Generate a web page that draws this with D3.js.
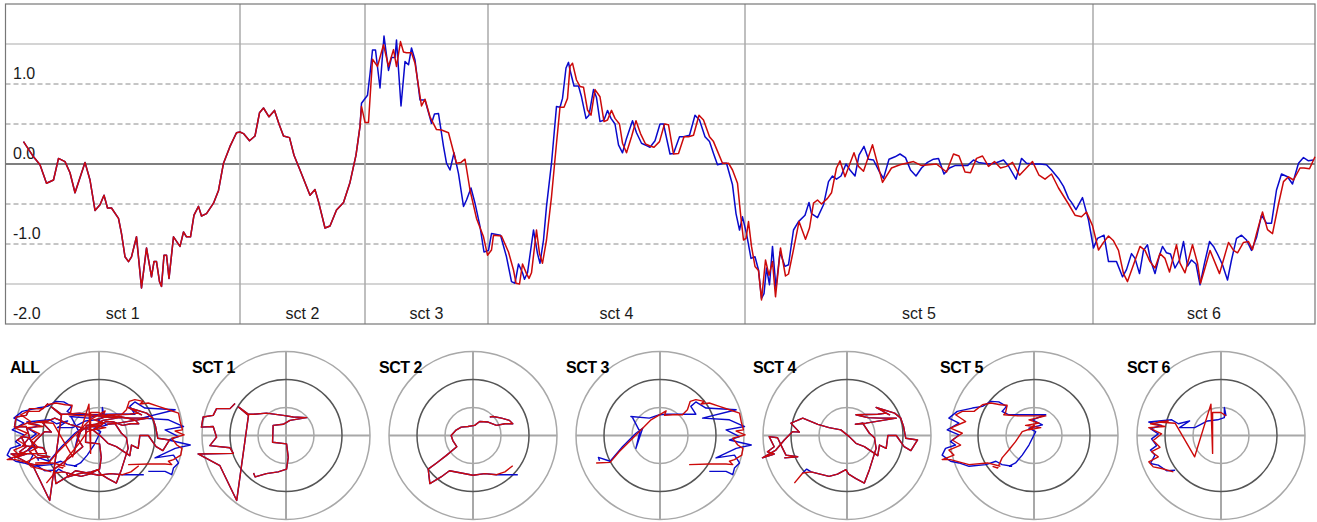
<!DOCTYPE html>
<html><head><meta charset="utf-8">
<script src="https://cdn.jsdelivr.net/npm/d3@7/dist/d3.min.js"></script>
<style>
html,body{margin:0;padding:0;background:#fff;}
svg{display:block;font-family:"Liberation Sans",Arial,Helvetica,sans-serif;}
</style></head><body>
<svg id="chart" width="1317" height="522"></svg>
<script>
// ---------- DATA (time in samples, value) ----------
const sectionNames = ["sct 1","sct 2","sct 3","sct 4","sct 5","sct 6"];
const sectionBounds = [0, 46.9, 71.9, 96.5, 147.9, 217.5, 261.9];
const gridSolid = [1.5, -1.5];
const gridDashed = [1.0, 0.5, -0.5, -1.0];
const zeroLine = [0];
const tickLabels = [1.0, 0.0, -1.0, -2.0];

// sections 1 and 2: both series coincide
const sct1Both = [[3.6,0.28],[5.6,0.09],[6.9,-0.01],[8.2,-0.24],[9.6,-0.20],[10.6,0.07],[11.9,0.03],[12.9,-0.11],[13.9,-0.36],[15.9,0.02],[16.9,-0.20],[17.9,-0.58],[18.9,-0.51],[19.7,-0.39],[20.4,-0.55],[21.2,-0.55],[22.6,-0.68],[23.2,-0.87],[23.9,-1.16],[24.6,-1.22],[25.2,-1.16],[26.2,-0.91],[27.2,-1.55],[28.2,-1.05],[29.2,-1.41],[29.7,-1.22],[30.2,-1.22],[30.8,-1.47],[31.2,-1.53],[31.7,-1.14],[32.2,-1.14],[32.7,-1.43],[33.6,-0.91],[34.9,-1.03],[35.6,-0.85],[36.2,-0.91],[37.0,-0.91],[37.7,-0.64],[38.6,-0.53],[39.2,-0.65],[40.2,-0.62],[41.6,-0.49],[42.6,-0.33],[43.6,0.01],[44.9,0.22],[46.2,0.39]];
const sct2Both = [[46.9,0.40],[47.6,0.38],[48.8,0.29],[49.9,0.35],[50.8,0.64],[51.6,0.70],[52.7,0.59],[53.8,0.67],[54.7,0.50],[55.6,0.35],[56.8,0.33],[57.7,0.11],[58.9,-0.075],[60.9,-0.39],[61.9,-0.32],[62.6,-0.47],[63.9,-0.80],[64.9,-0.775],[66.2,-0.575],[67.6,-0.48],[68.9,-0.23],[70.1,0.11],[70.9,0.47]];

const sct3Blue = [[71.2,0.76],[72.4,0.86],[72.9,1.125],[73.4,1.425],[74.0,1.425],[74.9,0.95],[75.7,1.60],[76.6,1.17],[77.2,1.33],[77.9,1.33],[78.2,1.55],[79.1,0.725],[79.9,1.28],[80.6,1.24],[81.2,1.45],[81.9,1.30],[82.9,0.80],[83.9,0.80],[85.2,0.51],[85.8,0.625],[86.6,0.63],[87.6,0.22],[88.2,0.01],[88.9,-0.075],[89.7,0.14],[90.6,-0.12],[91.6,-0.53],[92.2,-0.45],[93.1,-0.30],[93.9,-0.49],[94.9,-0.78],[95.7,-1.10],[96.6,-1.08]];
const sct3Red = [[71.2,0.72],[71.9,0.52],[72.6,0.52],[73.4,1.31],[74.4,1.22],[75.6,1.49],[76.6,1.22],[77.6,1.43],[78.2,1.22],[79.0,1.53],[79.6,1.40],[80.2,1.39],[81.2,1.39],[81.9,1.26],[83.2,0.725],[83.9,0.81],[84.9,0.59],[86.2,0.43],[87.2,0.425],[88.6,0.39],[90.2,0.01],[91.1,0.02],[91.9,0.06],[92.9,-0.325],[94.2,-0.68],[95.6,-0.91],[96.4,-1.14]];

const sct4Blue = [[97.2,-0.87],[98.2,-0.88],[99.0,-0.89],[100.2,-1.16],[101.2,-1.47],[101.9,-1.49],[102.6,-1.25],[103.4,-1.36],[103.8,-1.44],[104.4,-1.36],[105.6,-0.825],[106.4,-1.12],[106.9,-1.24],[107.6,-0.95],[108.2,-0.53],[109.2,0.01],[110.2,0.72],[110.9,0.71],[111.4,0.82],[112.1,1.20],[112.6,1.27],[112.9,1.175],[113.7,0.975],[114.6,0.975],[115.2,0.84],[116.1,0.57],[116.7,0.61],[117.6,0.93],[118.2,0.83],[118.9,0.53],[119.7,0.55],[120.4,0.67],[121.1,0.57],[121.9,0.50],[122.6,0.24],[123.4,0.14],[124.2,0.32],[125.4,0.54],[126.2,0.39],[127.2,0.26],[128.2,0.23],[128.9,0.21],[129.9,0.29],[130.9,0.50],[131.6,0.50],[132.9,0.125],[133.6,0.13],[134.8,0.34],[135.6,0.34],[136.8,0.36],[137.9,0.61],[138.8,0.55],[139.9,0.34],[140.8,0.28],[141.6,0.13],[142.4,-0.01],[143.6,0.01],[144.2,0.01],[145.4,-0.26],[146.1,-0.62],[146.8,-0.825],[147.4,-0.66]];
const sct4Red = [[97.2,-1.075],[97.6,-0.89],[99.2,-0.90],[100.6,-1.10],[101.6,-1.325],[102.1,-1.49],[102.8,-1.50],[103.4,-1.25],[104.2,-1.37],[104.7,-1.43],[105.2,-1.36],[106.2,-0.825],[106.8,-1.12],[107.4,-1.24],[108.2,-0.95],[109.2,-0.41],[110.2,0.26],[110.9,0.71],[111.7,0.71],[112.4,0.82],[112.9,1.22],[113.4,1.26],[114.2,1.05],[114.9,0.97],[115.6,0.96],[116.4,0.675],[117.1,0.61],[117.9,0.93],[118.9,0.84],[119.7,0.53],[120.4,0.55],[121.2,0.67],[121.9,0.57],[122.8,0.50],[123.4,0.26],[124.2,0.14],[125.2,0.34],[126.1,0.54],[127.0,0.38],[128.0,0.25],[128.9,0.225],[129.7,0.21],[130.8,0.28],[131.8,0.50],[132.6,0.49],[133.6,0.125],[134.6,0.13],[135.7,0.34],[136.6,0.34],[137.6,0.36],[138.7,0.61],[139.6,0.55],[140.8,0.34],[141.6,0.28],[142.6,0.13],[143.4,0.01],[144.6,0.01],[145.4,-0.075],[146.4,-0.24],[147.0,-0.62],[147.6,-0.95]];

const sct5Blue = [[148.2,-0.87],[149.1,-1.18],[149.9,-1.16],[150.6,-1.325],[151.2,-1.68],[151.7,-1.62],[152.2,-1.30],[152.8,-1.51],[153.4,-1.03],[154.1,-1.55],[154.9,-1.10],[155.9,-1.28],[156.6,-1.26],[157.6,-0.825],[158.6,-0.72],[159.9,-0.64],[160.7,-0.48],[161.2,-0.62],[162.4,-0.67],[163.6,-0.51],[164.6,-0.22],[165.4,-0.15],[166.2,-0.19],[167.1,-0.15],[168.1,0.00],[168.9,-0.075],[169.9,-0.15],[170.7,0.11],[171.7,0.22],[172.6,0.06],[173.6,0.05],[174.8,-0.10],[175.6,-0.18],[176.7,0.06],[177.9,0.09],[178.9,0.125],[180.0,0.08],[181.0,-0.075],[182.1,-0.15],[183.2,-0.05],[184.4,0.02],[185.6,0.06],[186.6,0.07],[187.7,-0.125],[188.8,-0.05],[189.9,-0.02],[191.2,-0.02],[192.4,-0.02],[193.6,0.05],[194.6,0.02],[195.6,0.01],[196.6,0.00],[197.9,0.01],[199.6,0.05],[200.6,-0.025],[202.1,-0.19],[203.2,0.07],[204.2,0.01],[205.6,0.00],[206.9,0.00],[208.2,-0.01],[209.2,-0.075],[210.6,-0.18],[211.6,-0.28],[212.6,-0.43],[213.2,-0.48],[214.1,-0.57],[215.4,-0.42],[216.6,-0.70],[217.6,-1.05]];
const sct5Red = [[148.1,-0.93],[148.6,-0.72],[149.2,-1.03],[149.9,-1.28],[150.6,-1.33],[151.2,-1.70],[152.0,-1.20],[152.7,-1.39],[153.4,-1.22],[154.0,-1.66],[155.0,-1.05],[156.0,-1.40],[156.6,-1.375],[157.6,-1.07],[158.7,-0.72],[160.0,-0.94],[160.8,-0.80],[161.6,-0.49],[162.4,-0.45],[163.2,-0.50],[164.4,-0.43],[165.2,-0.36],[166.2,-0.05],[166.9,0.04],[167.9,-0.16],[169.7,0.14],[170.6,-0.03],[171.6,-0.09],[173.4,0.24],[175.4,-0.23],[177.2,-0.05],[178.9,-0.01],[181.6,0.03],[183.2,-0.02],[186.2,0.00],[188.2,-0.10],[189.6,0.125],[190.7,0.10],[191.9,-0.10],[193.0,-0.11],[194.2,0.07],[195.4,0.10],[196.6,-0.03],[197.8,0.03],[199.0,-0.05],[200.2,-0.03],[201.4,0.02],[202.8,-0.14],[205.4,0.03],[206.7,-0.14],[207.9,-0.19],[209.2,-0.125],[210.6,-0.30],[212.6,-0.50],[213.9,-0.64],[215.2,-0.66],[216.2,-0.60],[217.4,-0.77]];

const sct6Blue = [[218.4,-0.93],[219.7,-0.89],[220.6,-1.22],[222.2,-1.22],[223.4,-1.41],[224.2,-1.32],[225.2,-1.12],[225.9,-1.18],[226.8,-1.37],[227.6,-1.08],[228.4,-1.01],[229.0,-1.20],[229.9,-1.37],[230.8,-1.14],[231.4,-1.03],[232.2,-1.11],[233.0,-1.125],[233.9,-1.30],[234.8,-1.20],[235.6,-0.97],[236.4,-1.275],[237.2,-1.20],[238.1,-1.25],[238.9,-1.51],[239.8,-1.24],[240.8,-0.97],[241.6,-1.03],[242.4,-1.125],[243.4,-1.26],[244.4,-1.45],[245.2,-1.20],[246.2,-0.93],[247.2,-0.89],[248.2,-0.95],[249.2,-1.08],[250.2,-0.92],[251.2,-0.64],[252.2,-0.74],[253.2,-0.74],[254.2,-0.325],[255.2,-0.125],[256.4,-0.16],[257.4,-0.25],[258.6,0.01],[259.6,0.08],[260.6,0.04],[261.6,0.05]];
const sct6Red = [[218.6,-1.075],[219.6,-0.98],[220.6,-0.90],[221.6,-0.96],[222.6,-1.08],[223.6,-1.37],[224.4,-1.47],[225.6,-1.26],[226.9,-1.03],[227.9,-1.08],[228.9,-1.22],[229.9,-1.30],[230.9,-1.12],[231.9,-1.18],[232.8,-1.35],[234.2,-1.01],[234.9,-1.24],[235.9,-1.36],[237.4,-1.01],[238.4,-1.24],[239.0,-1.49],[239.9,-1.30],[240.9,-1.08],[242.8,-1.37],[244.6,-0.98],[245.6,-1.08],[246.4,-1.11],[247.6,-0.98],[248.6,-0.97],[249.4,-1.07],[250.2,-0.87],[251.4,-0.60],[252.4,-0.82],[253.4,-0.87],[254.6,-0.50],[255.6,-0.22],[256.6,-0.16],[257.6,-0.20],[258.9,-0.05],[259.7,-0.05],[260.8,-0.06],[261.9,0.09]];

// polar trajectories: [horizontal, vertical] in ring units (middle ring = 1)
const polarTitles = ["ALL","SCT 1","SCT 2","SCT 3","SCT 4","SCT 5","SCT 6"];
const ringLevels = [0.5, 1.0, 1.5];
const polar1Both = [[-0.91,0.57],[-1.00,0.48],[-1.24,0.48],[-1.30,0.36],[-1.48,0.33],[-1.51,0.15],[-1.30,0.16],[-1.24,-0.03],[-1.36,-0.18],[-1.00,-0.22],[-0.94,-0.32],[-1.57,-0.33],[-1.18,-0.54],[-0.88,-1.16],[-0.67,0.36],[-0.85,0.51],[-0.67,0.38],[-0.58,0.38],[-0.35,0.40],[-0.05,0.36],[0.13,0.33],[0.37,0.32],[0.07,0.27],[-0.05,0.20],[-0.23,0.18],[-0.24,-0.12],[0.01,-0.15],[0.04,-0.39],[0.01,-0.60],[-0.14,-0.65],[-0.35,-0.68],[-0.55,-0.74],[-0.58,-0.67]];
const polar2Red = [[0.30,0.33],[0.36,0.34],[0.51,0.31],[0.65,0.27],[0.71,0.21],[0.57,0.21],[0.42,0.18],[0.27,0.24],[0.12,0.25],[0.03,0.18],[-0.09,0.16],[-0.21,0.15],[-0.31,0.09],[-0.39,0.00],[-0.36,-0.09],[-0.29,-0.20],[-0.48,-0.36],[-0.65,-0.49],[-0.80,-0.60],[-0.77,-0.86],[-0.57,-0.74],[-0.42,-0.63],[-0.21,-0.67],[0.00,-0.71],[0.21,-0.68],[0.42,-0.70],[0.57,-0.65],[0.71,-0.54]];
const polar2Blue = [[0.30,0.33],[0.36,0.34],[0.51,0.31],[0.65,0.27],[0.71,0.21],[0.57,0.21],[0.42,0.18],[0.27,0.24],[0.12,0.25],[0.03,0.18],[-0.09,0.16],[-0.21,0.15],[-0.31,0.09],[-0.39,0.00],[-0.36,-0.09],[-0.29,-0.20],[-0.48,-0.36],[-0.65,-0.49],[-0.80,-0.60],[-0.77,-0.86],[-0.57,-0.74],[-0.42,-0.63],[-0.21,-0.67],[0.00,-0.71],[0.21,-0.68],[0.42,-0.70],[0.80,-0.70]];
const polar3Red = [[-1.14,-0.49],[-0.89,-0.48],[-0.73,-0.29],[-0.55,-0.11],[-0.34,0.10],[-0.16,0.28],[-0.01,0.37],[0.11,0.44],[0.08,0.36],[0.23,0.37],[0.40,0.37],[0.49,0.46],[0.54,0.61],[0.64,0.64],[0.79,0.61],[0.73,0.56],[0.88,0.58],[1.06,0.52],[1.24,0.46],[1.42,0.40],[1.45,0.25],[1.49,0.10],[1.36,0.08],[1.52,0.01],[1.30,-0.05],[1.39,-0.17],[1.48,-0.23],[1.46,-0.35],[1.33,-0.43],[1.24,-0.46],[1.30,-0.52],[1.18,-0.51],[0.88,-0.51],[0.52,-0.52]];
const polar3Blue = [[-1.08,-0.45],[-1.10,-0.39],[-0.89,-0.46],[-0.67,-0.20],[-0.43,0.04],[-0.31,0.13],[-0.43,-0.23],[-0.36,0.07],[-0.49,0.32],[-0.52,0.34],[-0.19,0.31],[-0.01,0.37],[0.11,0.38],[0.64,0.38],[0.55,0.52],[0.64,0.60],[0.82,0.49],[1.36,0.46],[0.76,0.31],[1.24,0.28],[1.51,0.16],[1.18,0.10],[1.42,-0.02],[1.24,-0.08],[1.63,-0.17],[1.36,-0.23],[1.00,-0.40],[1.33,-0.35],[1.42,-0.49],[1.33,-0.58],[1.30,-0.70],[1.18,-0.64],[0.88,-0.64]];
const polar4Red = [[-1.12,-0.40],[-0.88,-0.38],[-1.09,-0.35],[-1.15,-0.23],[-1.24,-0.04],[-1.39,-0.02],[-1.30,-0.20],[-1.42,-0.29],[-1.30,-0.33],[-1.51,-0.40],[-1.27,-0.26],[-1.12,-0.08],[-0.97,0.07],[-0.85,0.06],[-1.00,0.22],[-0.79,0.31],[-0.52,0.20],[-0.32,0.14],[-0.11,0.10],[0.04,-0.02],[0.16,-0.14],[0.31,-0.20],[0.55,-0.36],[0.58,-0.17],[0.70,-0.23],[0.73,0.00],[0.88,0.00],[1.02,-0.20],[1.14,-0.27],[1.26,-0.08],[1.05,-0.05],[1.01,0.16],[0.96,0.31],[0.85,0.40],[0.52,0.50],[0.76,0.37],[0.70,0.40],[0.55,0.38],[0.16,0.37],[0.37,0.32],[0.58,0.31],[0.88,0.31],[0.34,0.22],[0.15,0.20],[0.28,0.22],[0.40,0.04],[0.49,-0.04],[0.52,-0.23],[0.40,-0.61],[0.31,-0.85],[0.16,-0.77],[0.03,-0.69],[-0.02,-0.61],[-0.17,-0.69],[-0.32,-0.73],[-0.64,-0.65],[-0.79,-0.67],[-0.94,-0.85]];
const polar4Blue = [[-1.12,-0.40],[-0.88,-0.38],[-1.09,-0.35],[-1.15,-0.23],[-1.24,-0.04],[-1.39,-0.02],[-1.30,-0.20],[-1.42,-0.29],[-1.30,-0.33],[-1.51,-0.40],[-1.27,-0.26],[-1.12,-0.08],[-0.97,0.07],[-0.85,0.06],[-1.00,0.22],[-0.79,0.31],[-0.52,0.20],[-0.32,0.14],[-0.11,0.10],[0.04,-0.02],[0.16,-0.14],[0.31,-0.20],[0.55,-0.36],[0.58,-0.17],[0.70,-0.23],[0.73,0.00],[0.88,0.00],[1.02,-0.20],[1.14,-0.27],[1.26,-0.08],[1.05,-0.05],[1.01,0.16],[0.96,0.31],[0.85,0.40],[0.52,0.50],[0.76,0.37],[0.70,0.40],[0.55,0.38],[0.16,0.37],[0.37,0.32],[0.58,0.31],[0.88,0.31],[0.34,0.22],[0.15,0.20],[0.28,0.22],[0.40,0.04],[0.49,-0.04],[0.52,-0.23],[0.40,-0.61],[0.31,-0.85],[0.16,-0.77],[0.03,-0.69],[-0.02,-0.61],[-0.17,-0.69],[-0.32,-0.73],[-0.64,-0.65],[-0.72,-0.60],[-0.80,-0.68]];
const polar5Red = [[-0.60,-0.55],[-0.83,-0.49],[-1.16,-0.52],[-1.49,-0.43],[-1.64,-0.43],[-1.43,-0.35],[-1.52,-0.26],[-1.31,-0.17],[-1.46,-0.08],[-1.28,0.04],[-1.49,0.13],[-1.22,0.25],[-1.40,0.37],[-1.28,0.43],[-1.07,0.43],[-0.92,0.55],[-0.77,0.58],[-0.60,0.55],[-0.48,0.54],[-0.51,0.40],[-0.54,0.37],[-0.27,0.35],[0.21,0.35],[-0.09,0.28],[0.09,0.22],[-0.15,0.18],[0.12,0.14],[-0.09,0.10],[0.03,0.22],[-0.03,0.13],[-0.21,0.07],[-0.33,-0.11],[-0.45,-0.26],[-0.57,-0.40],[-0.65,-0.58],[-0.74,-0.55]];
const polar5Blue = [[-0.39,-0.55],[-0.57,-0.52],[-0.68,-0.46],[-0.86,-0.52],[-1.16,-0.55],[-1.34,-0.49],[-1.49,-0.46],[-1.64,-0.35],[-1.58,-0.23],[-1.40,-0.17],[-1.49,-0.11],[-1.34,0.01],[-1.55,0.10],[-1.34,0.22],[-1.52,0.31],[-1.37,0.43],[-1.10,0.49],[-0.92,0.52],[-0.77,0.61],[-0.63,0.60],[-0.49,0.52],[-0.57,0.43],[-0.45,0.37],[0.21,0.37],[-0.03,0.28],[0.15,0.19],[-0.09,0.13],[0.03,0.07],[-0.09,-0.17],[-0.21,-0.35],[-0.33,-0.49],[-0.45,-0.55]];
const polar6Red = [[-0.85,-0.65],[-1.06,-0.59],[-1.21,-0.56],[-1.29,-0.47],[-1.12,-0.38],[-1.24,-0.29],[-1.09,-0.21],[-1.21,-0.09],[-1.06,0.03],[-1.29,0.14],[-1.00,0.16],[-1.26,0.21],[-0.94,0.26],[-1.12,0.24],[-0.82,0.22],[-0.47,-0.38],[-0.18,0.56],[-0.15,-0.32],[-0.15,0.41],[0.00,0.41],[0.09,0.35]];
const polar6Blue = [[-0.82,-0.62],[-0.97,-0.63],[-1.12,-0.53],[-1.26,-0.50],[-1.18,-0.35],[-1.26,-0.26],[-1.15,-0.18],[-1.24,-0.06],[-1.12,0.03],[-1.26,0.12],[-1.06,0.18],[-1.29,0.24],[-0.88,0.28],[-0.76,0.21],[-0.56,0.26],[-0.74,0.14],[-0.47,0.14],[-0.24,0.26],[-0.06,0.28],[0.06,0.32],[0.06,0.50],[0.09,0.35]];

// ---------- DRAW ----------
const svg = d3.select("#chart");
const BLUE = "#0a0acc", RED = "#cc0a0a";

const x = d3.scaleLinear().domain([sectionBounds[0], sectionBounds[sectionBounds.length-1]]).range([5.5, 1315]);
const y = d3.scaleLinear().domain([-2, 2]).range([324, 4]);
const [x0, x1] = x.range();

const gTop = svg.append("g");
gTop.selectAll("line.solid").data(gridSolid).join("line")
  .attr("x1", x0).attr("x2", x1).attr("y1", d => y(d)).attr("y2", d => y(d))
  .attr("stroke", "#aaa").attr("stroke-width", 1.2);
gTop.selectAll("line.dash").data(gridDashed).join("line")
  .attr("x1", x0).attr("x2", x1).attr("y1", d => y(d)).attr("y2", d => y(d))
  .attr("stroke", "#8c8c8c").attr("stroke-width", 1).attr("stroke-dasharray", "5,3");
gTop.selectAll("line.zero").data(zeroLine).join("line")
  .attr("x1", x0).attr("x2", x1).attr("y1", d => y(d)).attr("y2", d => y(d))
  .attr("stroke", "#555").attr("stroke-width", 1.3);
gTop.selectAll("line.sect").data(sectionBounds.slice(1, -1)).join("line")
  .attr("x1", d => x(d)).attr("x2", d => x(d)).attr("y1", y(2)).attr("y2", y(-2))
  .attr("stroke", "#aaa").attr("stroke-width", 1.5);
gTop.append("rect").attr("x", x0).attr("y", y(2)).attr("width", x1 - x0).attr("height", y(-2) - y(2))
  .attr("fill", "none").attr("stroke", "#777").attr("stroke-width", 1.2);

gTop.selectAll("text.tick").data(tickLabels).join("text")
  .attr("x", 13).attr("y", d => y(d) - 5)
  .attr("font-size", 16).attr("fill", "#1a1a1a")
  .text(d => d.toFixed(1));
gTop.selectAll("text.sect").data(sectionNames).join("text")
  .attr("x", (d, i) => x((sectionBounds[i] + sectionBounds[i+1]) / 2))
  .attr("y", y(-2) - 5).attr("text-anchor", "middle")
  .attr("font-size", 16).attr("fill", "#1a1a1a")
  .text(d => d);

const blueSeries = [].concat(sct1Both, sct2Both, sct3Blue, sct4Blue, sct5Blue, sct6Blue);
const redSeries = [].concat(sct1Both, sct2Both, sct3Red, sct4Red, sct5Red, sct6Red);
const line = d3.line().x(d => x(d[0])).y(d => y(d[1]));
gTop.append("path").attr("d", line(blueSeries)).attr("fill", "none").attr("stroke", BLUE).attr("stroke-width", 1.5).attr("stroke-linejoin", "round");
gTop.append("path").attr("d", line(redSeries)).attr("fill", "none").attr("stroke", RED).attr("stroke-width", 1.5).attr("stroke-linejoin", "round");

// polar plots
const polarBlue = [polar1Both, polar2Blue, polar3Blue, polar4Blue, polar5Blue, polar6Blue];
const polarRed = [polar1Both, polar2Red, polar3Red, polar4Red, polar5Red, polar6Red];
const cy = 435.5;
polarTitles.forEach((title, k) => {
  const cx = 99 + 187 * k;
  const px = d3.scaleLinear().domain([-1.5, 1.5]).range([cx - 84, cx + 84]);
  const py = d3.scaleLinear().domain([-1.5, 1.5]).range([cy + 84, cy - 84]);
  const g = svg.append("g");
  g.append("line").attr("x1", px(-1.5)).attr("x2", px(1.5)).attr("y1", py(0)).attr("y2", py(0)).attr("stroke", "#a8a8a8").attr("stroke-width", 2);
  g.append("line").attr("x1", px(0)).attr("x2", px(0)).attr("y1", py(-1.5)).attr("y2", py(1.5)).attr("stroke", "#a8a8a8").attr("stroke-width", 2);
  g.selectAll("circle").data(ringLevels).join("circle")
    .attr("cx", px(0)).attr("cy", py(0)).attr("r", d => px(d) - px(0))
    .attr("fill", "none").attr("stroke", d => d === 1.0 ? "#555" : "#a8a8a8").attr("stroke-width", 1.5);
  const pl = d3.line().x(d => px(d[0])).y(d => py(d[1]));
  const blues = k === 0 ? polarBlue : [polarBlue[k-1]];
  const reds = k === 0 ? polarRed : [polarRed[k-1]];
  g.selectAll("path.b").data(blues).join("path").attr("class","b").attr("d", pl)
    .attr("fill", "none").attr("stroke", BLUE).attr("stroke-width", 1.4).attr("stroke-linejoin", "round");
  g.selectAll("path.r").data(reds).join("path").attr("class","r").attr("d", pl)
    .attr("fill", "none").attr("stroke", RED).attr("stroke-width", 1.4).attr("stroke-linejoin", "round");
  g.append("text").attr("x", k === 0 ? 10 : cx - 94).attr("y", 373)
    .attr("font-size", 16).attr("font-weight", "bold").attr("fill", "#000").attr("letter-spacing", -0.5)
    .text(title);
});
</script>
</body></html>
